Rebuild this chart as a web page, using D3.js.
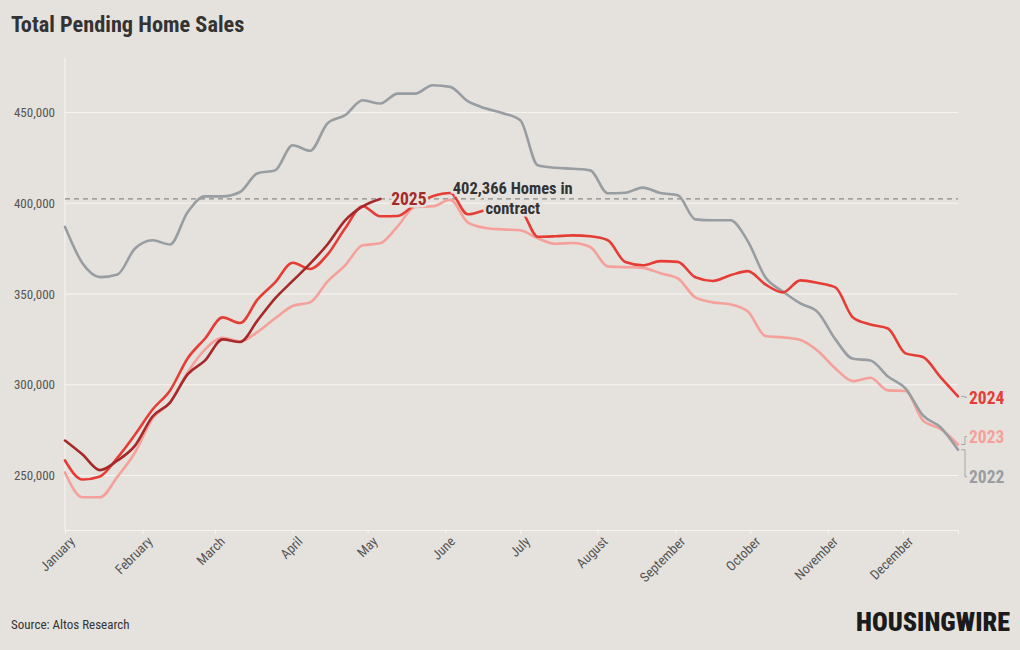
<!DOCTYPE html>
<html>
<head>
<meta charset="utf-8">
<script src="https://cdn.jsdelivr.net/npm/d3@7"></script>
<style>
  body { margin: 0; background: #e5e2dd; }
  svg { display: block; }
  text { font-family: "Roboto Condensed", "Liberation Sans Narrow", "Roboto", sans-serif; }
</style>
</head>
<body>
<svg id="chart" width="1020" height="650"></svg>
<script>
// weekly values, first week of Jan through the week of Dec 23
const series2022 = [387000, 366900, 359300, 360800, 375100, 379600, 377300, 395000, 403800, 403800,
  406200, 416500, 418100, 431900, 428900, 444100, 448500, 456700, 454900, 460400,
  460400, 465000, 464100, 456200, 452300, 449600, 445700, 420900, 419500, 419000,
  418100, 405500, 405800, 408600, 405600, 404400, 391100, 390600, 390600, 379000,
  359200, 351400, 344800, 339900, 325000, 314300, 313400, 304600, 298000, 283100,
  276600, 264200];
const series2023 = [251700, 238000, 238000, 249400, 262700, 281400, 290400, 306800, 319500, 325900,
  323900, 329100, 336600, 343400, 345400, 357000, 365800, 376800, 377900, 387300,
  398000, 398300, 401900, 389500, 386400, 385600, 385100, 380700, 377700, 378100,
  375900, 365200, 364800, 364400, 361400, 358600, 348100, 345400, 344300, 340400,
  326900, 326100, 324700, 318600, 309000, 302000, 303900, 296900, 296600, 280300,
  275700, 267100];
const series2024 = [258300, 247800, 249500, 259900, 272600, 286400, 296900, 314500, 325500, 337100,
  334000, 347000, 356400, 367200, 363800, 371800, 386200, 398300, 392800, 393000,
  399400, 403800, 405600, 393900, 396100, 397000, 396000, 381500, 381800, 382300,
  381800, 379600, 367600, 365800, 368100, 367700, 359200, 357200, 360300, 362600,
  355300, 350900, 357500, 356100, 353600, 337100, 333200, 331000, 317300, 315300,
  304200, 293600];
const series2025 = [269300, 261600, 253000, 258300, 266500, 282500, 290200, 305700, 313400, 325000,
  323600, 335500, 347600, 357200, 366700, 377400, 390600, 398300, 402366];

const years = ["2022", "2023", "2024", "2025"];
const colors = ["#989da2", "#f5a09a", "#e53d36", "#a6292a"];
const yTicks = [250000, 300000, 350000, 400000, 450000];
const latest = 402366;

const bg = "#e5e2dd";
const svg = d3.select("#chart");

const weeks = d3.timeDay.range(new Date(2024, 0, 1), new Date(2024, 11, 24), 7);

const x = d3.scaleTime()
  .domain([weeks[0], weeks[weeks.length - 1]])
  .range([65, 958]);
const y = d3.scaleLinear()
  .domain([220000, 480000])
  .range([530, 58]);

// grid
svg.append("g")
  .selectAll("line")
  .data(yTicks)
  .join("line")
  .attr("x1", 65).attr("x2", 958)
  .attr("y1", d => y(d)).attr("y2", d => y(d))
  .attr("stroke", "#f7f5f2").attr("stroke-width", 1);

svg.append("line")
  .attr("x1", 65).attr("x2", 65)
  .attr("y1", 58).attr("y2", 530)
  .attr("stroke", "#f7f5f2");

// y axis
const yAxis = svg.append("g")
  .attr("transform", "translate(58,0)")
  .call(d3.axisLeft(y).tickValues(yTicks).tickFormat(d3.format(",")).tickSize(0));
yAxis.select(".domain").remove();
yAxis.selectAll("text")
  .attr("x", -3)
  .attr("fill", "#555")
  .style("font-size", "13px");

// x axis
const xAxis = svg.append("g")
  .attr("transform", "translate(0,530)")
  .call(d3.axisBottom(x).ticks(d3.timeMonth.every(1)).tickFormat(d3.timeFormat("%B")).tickSize(4));
xAxis.select(".domain").attr("stroke", "#f7f5f2");
xAxis.selectAll(".tick line").attr("stroke", "#f7f5f2");
xAxis.selectAll("text")
  .attr("fill", "#555")
  .style("font-size", "13.5px")
  .attr("text-anchor", "end")
  .attr("transform", "translate(7,9) rotate(-45)")
  .attr("dy", "0.35em")
  .attr("y", 0);

// reference line for the latest reading
svg.append("line")
  .attr("x1", 65).attr("x2", 958)
  .attr("y1", y(latest)).attr("y2", y(latest))
  .attr("stroke", "#8a8a8a")
  .attr("stroke-width", 1.3)
  .attr("stroke-dasharray", "5,4");

// lines
const line = d3.line()
  .x((d, i) => x(weeks[i]))
  .y(d => y(d))
  .curve(d3.curveMonotoneX);

const allSeries = [series2022, series2023, series2024, series2025];
const drawOrder = [1, 0, 2, 3];

svg.append("g")
  .selectAll("path")
  .data(drawOrder)
  .join("path")
  .attr("d", k => line(allSeries[k]))
  .attr("fill", "none")
  .attr("stroke", k => colors[k])
  .attr("stroke-width", 2.6)
  .attr("stroke-linejoin", "round")
  .attr("stroke-linecap", "round");

// end labels
const labelShift = [27, -8, 1];
[0, 1, 2].forEach(k => {
  const s = allSeries[k];
  const yEnd = y(s[s.length - 1]);
  const yLab = yEnd + labelShift[k];
  svg.append("path")
    .attr("d", `M961,${yEnd}H965V${yLab}H967`)
    .attr("fill", "none")
    .attr("stroke", "#a7a7a7")
    .attr("stroke-width", 1);
  svg.append("text")
    .attr("x", 969)
    .attr("y", yLab)
    .attr("dy", "0.36em")
    .attr("fill", colors[k])
    .style("font-size", "17.5px")
    .style("font-weight", "700")
    .text(years[k]);
});

// 2025 label
const last25 = series2025.length - 1;
svg.append("text")
  .attr("x", x(weeks[last25]) + 11)
  .attr("y", y(series2025[last25]))
  .attr("dy", "0.36em")
  .attr("fill", colors[3])
  .attr("stroke", bg).attr("stroke-width", 5).attr("paint-order", "stroke")
  .style("font-size", "17.5px")
  .style("font-weight", "700")
  .text("2025");

// annotation
const noteX = x(new Date(2024, 5, 28));
const note = svg.append("text")
  .attr("x", noteX)
  .attr("y", y(latest) - 5)
  .attr("text-anchor", "middle")
  .attr("fill", "#333")
  .attr("stroke", bg).attr("stroke-width", 5).attr("paint-order", "stroke")
  .style("font-size", "16.5px")
  .style("font-weight", "700");
note.append("tspan").text(d3.format(",")(latest) + " Homes in");
note.append("tspan").attr("x", noteX).attr("dy", 20).text("contract");

// title and footer
svg.append("text")
  .attr("x", 11).attr("y", 32)
  .attr("fill", "#333")
  .style("font-size", "22.3px")
  .style("font-weight", "700")
  .text("Total Pending Home Sales");

svg.append("text")
  .attr("x", 11).attr("y", 629)
  .attr("fill", "#333")
  .style("font-size", "13px")
  .text("Source: Altos Research");

svg.append("text")
  .attr("x", 1010).attr("y", 631)
  .attr("text-anchor", "end")
  .attr("fill", "#1b1b1b")
  .attr("textLength", 154)
  .attr("lengthAdjust", "spacingAndGlyphs")
  .style("font-size", "25px")
  .style("font-weight", "900")
  .text("HOUSINGWIRE");
</script>
</body>
</html>
